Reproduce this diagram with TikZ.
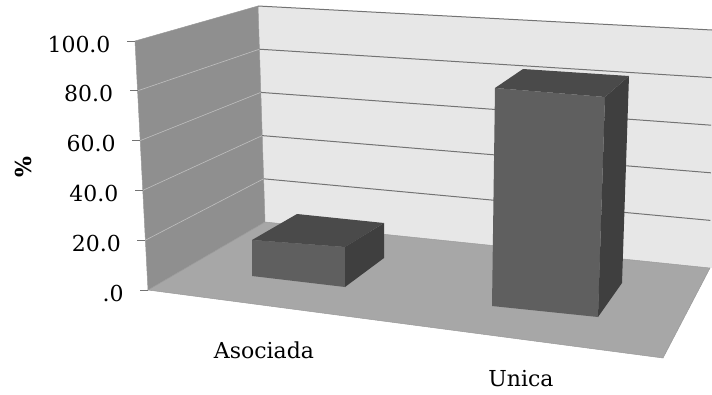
\documentclass[tikz,border=0pt]{standalone}
\usepackage{fontspec}
\setmainfont{DejaVu Serif}
\usepackage{tikz}
\usetikzlibrary{calc}

\definecolor{backwall}{HTML}{E7E7E7}
\definecolor{sidewall}{HTML}{8F8F8F}
\definecolor{floorgray}{HTML}{A7A7A7}
\definecolor{barfront}{HTML}{5F5F5F}
\definecolor{bartop}{HTML}{4A4A4A}
\definecolor{barside}{HTML}{3F3F3F}

\begin{document}
\begin{tikzpicture}[
            x=1pt, y=-1pt,
            wall/.style={draw=black!40, line width=0.5pt},
            grid/.style={draw=black!55, line width=1pt},
            sidegrid/.style={draw=black!25, line width=0.6pt},
            lbl/.style={font=\fontsize{22}{26}\selectfont, inner sep=0pt}
        ]
        \useasboundingbox (0,0) rectangle (712,394);

        % Corners of walls and floor
        \coordinate (wft) at (135,41);
        \coordinate (wfb) at (148,290);
        \coordinate (wbt) at (258,6);
        \coordinate (wbb) at (265,222);
        \coordinate (rt) at (712,30);
        \coordinate (rb) at (710,268);
        \coordinate (ff) at (663,358);

        % Walls and floor
        \fill[backwall] (wbt) -- (rt) -- (712,268) -- (wbb) -- cycle;
        \filldraw[sidewall, wall] (wft) -- (wbt) -- (wbb) -- (wfb) -- cycle;
        \filldraw[floorgray, wall] (wfb) -- (wbb) -- (rb) -- (ff) -- cycle;

        % Grid lines
        \foreach \v in {0.2,0.4,0.6,0.8} {
            \draw[sidegrid] ($(wfb)!\v!(wft)$) -- ($(wbb)!\v!(wbt)$);
            \draw[grid] ($(wbb)!\v!(wbt)$) -- ($(rb)!\v!(rt)$);
        }
        \draw[grid] (wbt) -- (rt);

        % Ticks and values
        \foreach \v/\t [count=\i] in {0/.0, 0.2/20.0, 0.4/40.0, 0.6/60.0, 0.8/80.0, 1/100.0} {
            \draw[grid] ($(wfb)!\v!(wft)$) -- ++(-8,0)
                node[lbl, anchor=east, xshift=-16pt, yshift=-3pt] (tk\i) {\t};
        }

        % Bar Asociada
        \fill[barfront] (252,240) -- (345,247) -- (345,287) -- (252,276) -- cycle;
        \fill[bartop] (252,240) -- (297,214) -- (384,223) -- (345,247) -- cycle;
        \fill[barside] (345,247) -- (384,223) -- (384,258) -- (345,287) -- cycle;

        % Bar Unica
        \fill[barfront] (495,88) -- (605,97) -- (598,317) -- (492,306) -- cycle;
        \fill[bartop] (495,88) -- (523,69) -- (629,76) -- (605,97) -- cycle;
        \fill[barside] (605,97) -- (629,76) -- (622,283) -- (598,317) -- cycle;

        % Labels
        \node[lbl] (asociada) at (264,350) {Asociada};
        \node[lbl] (unica) at (521,379) {Unica};
        \node[lbl, font=\fontsize{22}{26}\selectfont\bfseries, rotate=90] (pct) at (23,167) {\%};

    \end{tikzpicture}
\end{document}
